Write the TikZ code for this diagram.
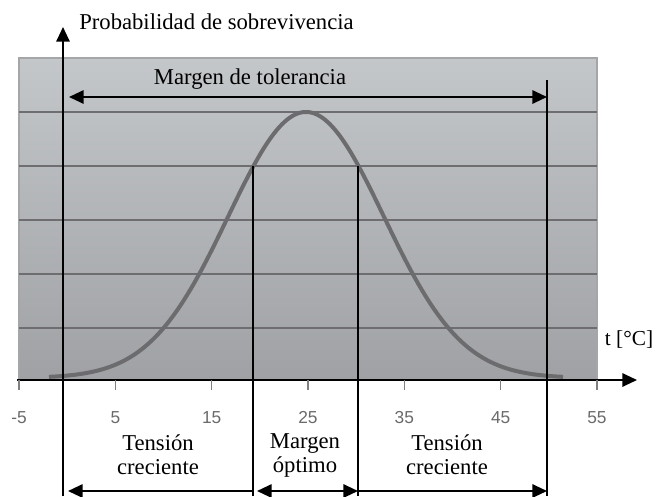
\documentclass[tikz,border=0pt]{standalone}
\usepackage{fontspec}
\setmainfont{Liberation Serif}
\newfontfamily\tickfont{Liberation Sans}
\usetikzlibrary{arrows.meta,positioning}
\definecolor{plottop}{HTML}{C4C7C9}
\definecolor{plotbot}{HTML}{9FA1A4}
\definecolor{plotedge}{HTML}{A4A6A8}
\definecolor{gridgray}{HTML}{6E6E70}
\definecolor{curvegray}{HTML}{6C6C6E}
\definecolor{ticktext}{HTML}{6A6A6A}

\tikzset{
  arr/.style={line width=1.5pt,-{Triangle[length=11pt,width=10pt]}},
  dblarr/.style={line width=1.5pt,{Triangle[length=11pt,width=10pt]}-{Triangle[length=11pt,width=10pt]}},
  mark line/.style={line width=1.5pt},
  lbl/.style={font=\fontsize{17}{18}\selectfont,align=center,inner sep=0pt},
  ticklbl/.style={font=\tickfont\fontsize{13}{14}\selectfont,text=ticktext,inner sep=0pt}
}

\begin{document}
\begin{tikzpicture}[x=0.75pt,y=-0.75pt]
\useasboundingbox (0,0) rectangle (656,496);

% plot area and grid
\shade[top color=plottop,bottom color=plotbot] (19,58) rectangle (597,380);
\draw[plotedge,line width=1pt] (19,380) -- (19,58) -- (597,58) -- (597,380);
\foreach \y in {112,166,220,274,328}
  \draw[gridgray,line width=1.5pt] (19,\y) -- (597,\y);

% survival curve
\draw[curvegray,line width=3pt,line join=round]
  plot[domain=49:563,samples=120,smooth] (\x,{378-266*exp(-0.5*((\x-306)/77.9)^2)});

% axes
\coordinate (xs) at (17,380);
\coordinate (xe) at (637,380);
\coordinate (ys) at (63,496);
\coordinate (ye) at (63,27);
\draw[arr] (xs) -- (xe);
\draw[arr] (ys) -- (ye);
\foreach \t in {-5,5,15,25,35,45,55}{
  \pgfmathsetmacro\px{19+(\t+5)*9.633}
  \draw[gray,line width=0.8pt] (\px,380) -- (\px,390);
  \node[ticklbl] (tk\t) at (\px,418) {\t};
}
\node[lbl,anchor=west] (ylab) at (79,22) {Probabilidad de sobrevivencia};
\node[lbl,font=\fontsize{16}{18}\selectfont] (xlab) at (629,340) {t [°C]};

% limits
\coordinate (lo) at (253,166);
\coordinate (hi) at (358,166);
\coordinate (mx) at (547,80);
\coordinate (lob) at (253,496);
\coordinate (hib) at (358,496);
\coordinate (mxb) at (547,496);
\draw[mark line] (lo) -- (lob);
\draw[mark line] (hi) -- (hib);
\draw[mark line] (mx) -- (mxb);

% tolerance range
\coordinate (tolL) at (69,97);
\coordinate (tolR) at (547,97);
\draw[dblarr] (tolL) -- (tolR);
\node[lbl] (tol) at (250,79) {Margen de tolerancia};

% ranges below
\coordinate (b0) at (68,491);
\coordinate (b1) at (253,491);
\coordinate (b2) at (257,491);
\coordinate (b3) at (358,491);
\coordinate (b4) at (547,491);
\draw[arr] (b1) -- (b0);
\draw[dblarr] (b2) -- (b3);
\draw[arr] (b3) -- (b4);
\node[lbl] (ten1) at (158,455) {Tensión\\creciente};
\node[lbl] (opt) at (305,455) {Margen\\óptimo};
\node[lbl] (ten2) at (447,455) {Tensión\\creciente};
\end{tikzpicture}
\end{document}
